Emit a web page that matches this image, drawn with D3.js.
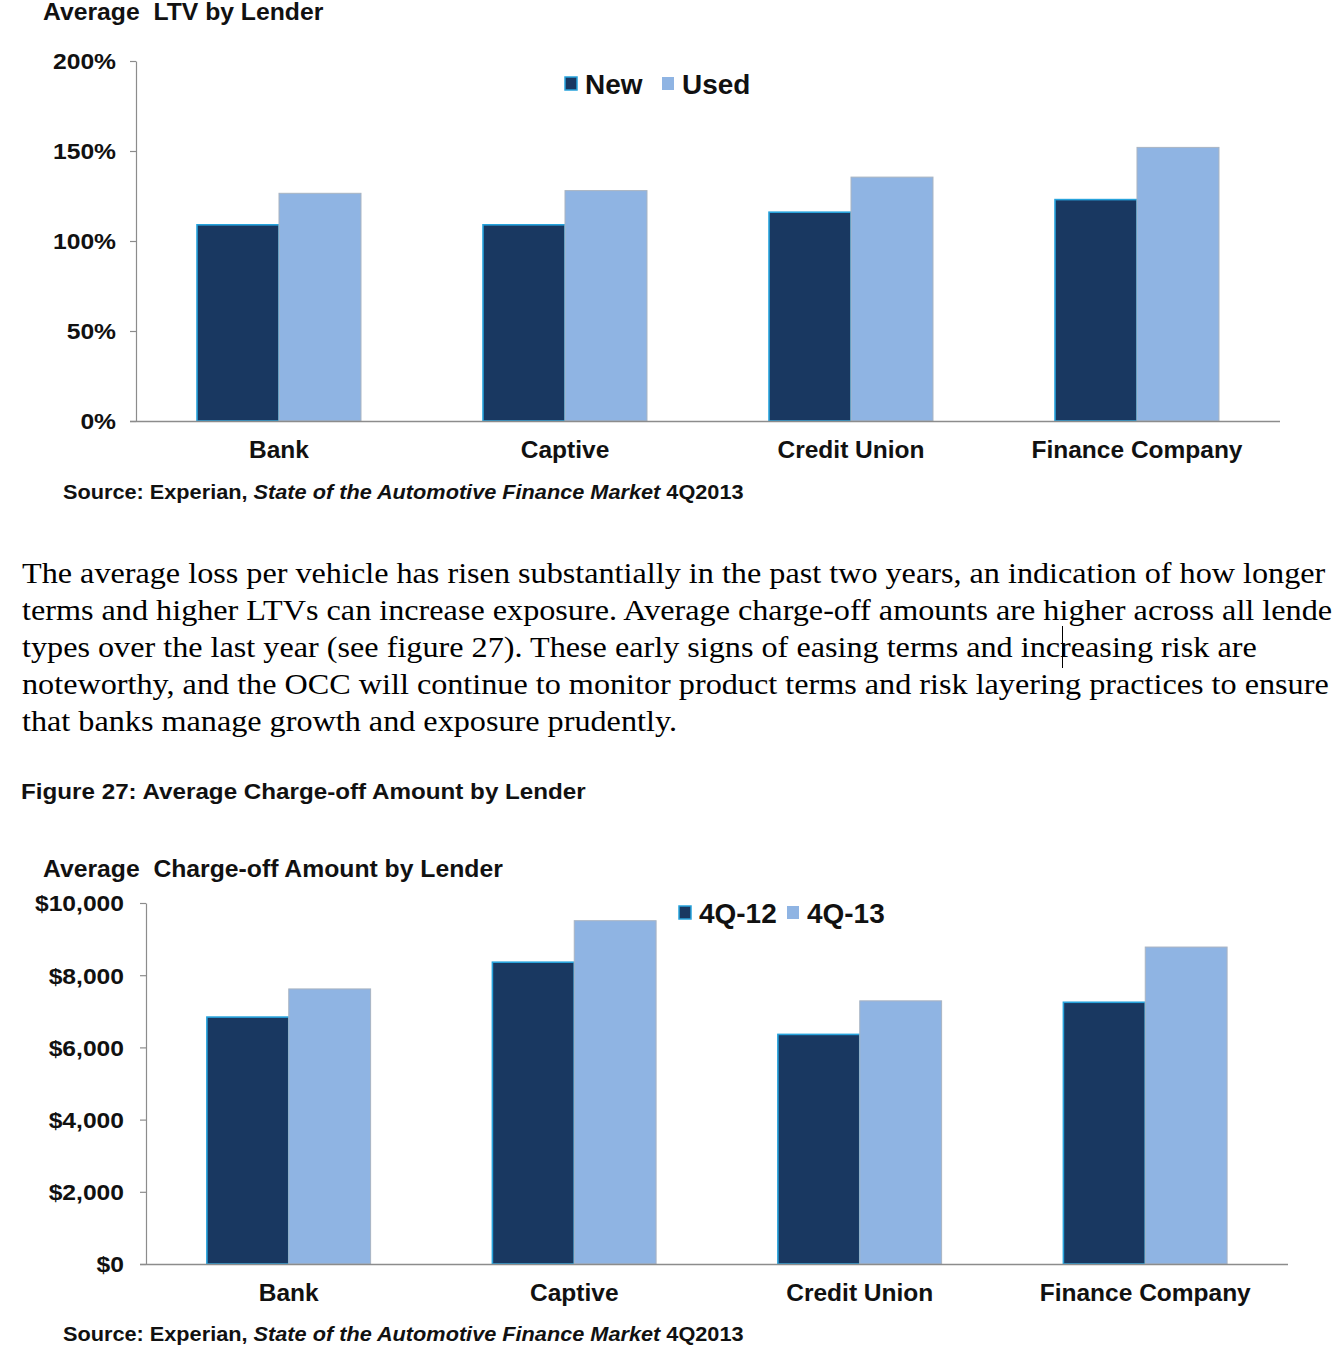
<!DOCTYPE html>
<html>
<head>
<meta charset="utf-8">
<script src="https://cdn.jsdelivr.net/npm/d3@7"></script>
<style>
  html, body { margin: 0; padding: 0; background: #fff; overflow: hidden; }
  svg { display: block; }
  .sans { font-family: "Liberation Sans", Arial, sans-serif; font-weight: bold; fill: #111; white-space: pre; }
  .serif { font-family: "Liberation Serif", "Times New Roman", serif; fill: #000; }
</style>
</head>
<body>
<svg id="page" width="1332" height="1371"></svg>
<script>
// ---------- data ----------
const categories = ["Bank", "Captive", "Credit Union", "Finance Company"];

const ltvSeries = ["New", "Used"];
const ltvNew  = [1.09, 1.09, 1.16, 1.23];
const ltvUsed = [1.265, 1.28, 1.355, 1.52];
const ltvTicks = [0, 0.5, 1.0, 1.5, 2.0];

const coSeries = ["4Q-12", "4Q-13"];
const co4Q12 = [6840, 8360, 6360, 7250];
const co4Q13 = [7620, 9510, 7290, 8780];
const coTicks = [0, 2000, 4000, 6000, 8000, 10000];

const paragraphLines = [
  "The average loss per vehicle has risen substantially in the past two years, an indication of how longer",
  "terms and higher LTVs can increase exposure. Average charge-off amounts are higher across all lender",
  "types over the last year (see figure 27). These early signs of easing terms and increasing risk are",
  "noteworthy, and the OCC will continue to monitor product terms and risk layering practices to ensure",
  "that banks manage growth and exposure prudently."
];

// ---------- drawing ----------
const svg = d3.select("#page");
const darkFill = "#193861", darkEdge = "#27a3dc";
const lightFill = "#8fb4e3", lightEdge = "#a9b4c2";

// the reference typography is slightly wider than the installed fonts
function stretch(sel, k) {
  sel.each(function () {
    const w = this.getComputedTextLength();
    d3.select(this).attr("textLength", w * k).attr("lengthAdjust", "spacingAndGlyphs");
  });
}

function drawChart(cfg) {
  const g = svg.append("g");
  const y = d3.scaleLinear().domain(cfg.domain).range([cfg.y0, cfg.y1]);
  const x = d3.scaleBand().domain(categories).range([cfg.xLeft, cfg.xRight])
              .paddingInner(0.4266).paddingOuter(0.2133);
  const xs = d3.scaleBand().domain(cfg.series).range([0, x.bandwidth()]);

  // title
  const title = g.append("text").attr("class", "sans").attr("x", cfg.titleX).attr("y", cfg.titleY)
    .style("font-size", "23px").text(cfg.title);
  stretch(title, 1.075);

  // y axis
  const yAxis = d3.axisLeft(y).tickValues(cfg.ticks).tickFormat(cfg.fmt)
    .tickSizeInner(6).tickSizeOuter(0).tickPadding(cfg.tickPad);
  const ya = g.append("g").attr("transform", `translate(${cfg.xLeft},0)`).call(yAxis);
  ya.select(".domain").attr("stroke", "#8c8c8c").attr("stroke-width", 1.2);
  ya.selectAll(".tick line").attr("stroke", "#8c8c8c").attr("stroke-width", 1.2);
  ya.selectAll(".tick text").attr("class", "sans").attr("fill", "#111")
    .style("font-size", "22px").attr("dy", "0.36em");
  stretch(ya.selectAll(".tick text"), 1.12);

  // bars
  const rows = categories.map((c, i) => ({ c, vals: [cfg.a[i], cfg.b[i]] }));
  const grp = g.selectAll(".grp").data(rows).enter().append("g")
    .attr("transform", d => `translate(${x(d.c)},0)`);
  grp.selectAll("rect").data(d => d.vals.map((v, j) => ({ v, s: cfg.series[j], j })))
    .enter().append("rect")
    .attr("x", d => xs(d.s))
    .attr("width", xs.bandwidth())
    .attr("y", d => y(d.v))
    .attr("height", d => y(0) - y(d.v))
    .attr("fill", d => d.j === 0 ? darkFill : lightFill)
    .attr("stroke", d => d.j === 0 ? darkEdge : lightEdge)
    .attr("stroke-width", d => d.j === 0 ? 1.6 : 1);

  // x axis
  const xAxis = d3.axisBottom(x).tickSize(0).tickPadding(cfg.catPad);
  const xa = g.append("g").attr("transform", `translate(0,${y(0)})`).call(xAxis);
  xa.select(".domain").attr("d", `M${cfg.xLeft - 6},0.5H${cfg.xRight}`)
    .attr("stroke", "#8c8c8c").attr("stroke-width", 1.4);
  xa.selectAll(".tick text").attr("class", "sans").attr("fill", "#111")
    .style("font-size", "23px");
  stretch(xa.selectAll(".tick text"), 1.065);

  // legend
  const lg = g.append("g");
  cfg.series.forEach((s, j) => {
    const lx = cfg.legendX[j];
    lg.append("rect").attr("x", lx).attr("y", cfg.legendY - 7).attr("width", 12).attr("height", 13)
      .attr("fill", j === 0 ? darkFill : lightFill)
      .attr("stroke", j === 0 ? darkEdge : "none").attr("stroke-width", 1.5);
    const t = lg.append("text").attr("class", "sans").attr("x", lx + 20).attr("y", cfg.legendY)
      .attr("dy", "0.36em").style("font-size", "27px").text(s);
    stretch(t, 1.035);
  });

  // source
  const src = g.append("text").attr("class", "sans").attr("x", cfg.srcX).attr("y", cfg.srcY)
    .attr("dy", "0.36em").style("font-size", "20px");
  const parts = [["Source: Experian, ", "normal"], ["State of the Automotive Finance Market", "italic"], [" 4Q2013", "normal"]];
  parts.forEach(([t, st]) => src.append("tspan").style("font-style", st).text(t));
  src.selectAll("tspan").each(function () {
    const w = this.getComputedTextLength();
    d3.select(this).attr("textLength", w * 1.085).attr("lengthAdjust", "spacingAndGlyphs");
  });
}

drawChart({
  title: "Average  LTV by Lender", titleX: 43, titleY: 20,
  domain: [0, 2], y0: 421, y1: 61, xLeft: 136, xRight: 1280,
  ticks: ltvTicks, fmt: d3.format(".0%"), tickPad: 14, catPad: 21,
  series: ltvSeries, a: ltvNew, b: ltvUsed,
  legendX: [565, 662], legendY: 84,
  srcX: 63, srcY: 492
});

// paragraph
const para = svg.append("g");
paragraphLines.forEach((t, i) => {
  const line = para.append("text").attr("class", "serif").attr("x", 22).attr("y", 583 + i * 37)
    .style("font-size", "29px").text(t);
  stretch(line, 1.11);
});
// text caret seen in the reference
svg.append("line").attr("x1", 1062.5).attr("x2", 1062.5).attr("y1", 626).attr("y2", 668)
  .attr("stroke", "#000").attr("stroke-width", 1);

// figure caption
const cap = svg.append("text").attr("class", "sans").attr("x", 21).attr("y", 791).attr("dy", "0.36em")
  .style("font-size", "22px").text("Figure 27: Average Charge-off Amount by Lender");
stretch(cap, 1.1);

drawChart({
  title: "Average  Charge-off Amount by Lender", titleX: 43, titleY: 877,
  domain: [0, 10000], y0: 1264, y1: 903, xLeft: 146, xRight: 1288,
  ticks: coTicks, fmt: d => "$" + d3.format(",")(d), tickPad: 16, catPad: 21,
  series: coSeries, a: co4Q12, b: co4Q13,
  legendX: [679, 787], legendY: 913,
  srcX: 63, srcY: 1334
});
</script>
</body>
</html>
